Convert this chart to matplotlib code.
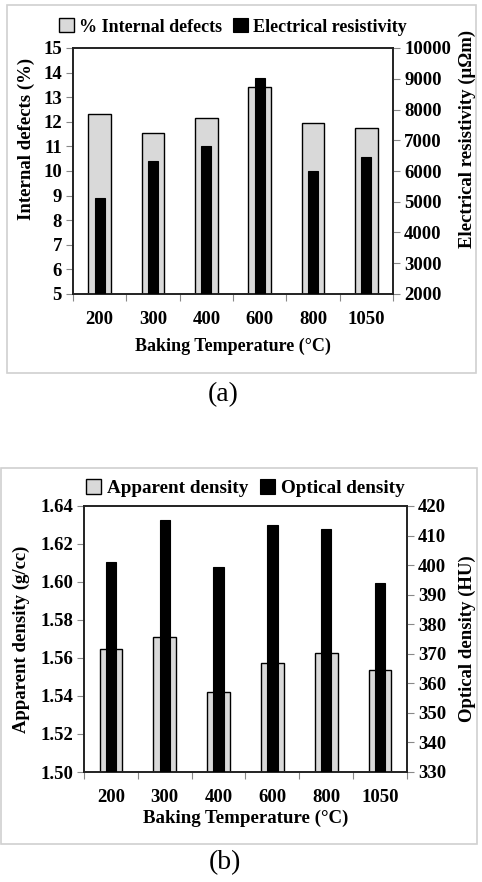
import numpy as np
import matplotlib.pyplot as plt
from matplotlib.patches import Rectangle

plt.rcParams['font.family'] = ['Liberation Serif', 'DejaVu Serif']

# Data
temps = ["200", "300", "400", "600", "800", "1050"]
internal_defects = [12.32, 11.53, 12.14, 13.40, 11.95, 11.75]       # %
resistivity = [5120, 6310, 6800, 9020, 6010, 6450]                  # uOhm m
apparent_density = [1.5648, 1.5708, 1.5420, 1.5576, 1.5624, 1.5536]  # g/cc
optical_density = [401.1, 415.3, 399.4, 413.5, 412.2, 394.1]        # HU

GREY = "#d9d9d9"
W, H = 482, 882


def fig_rect(x0, y0, x1, y1):
    # pixel box (top-left origin) -> figure fraction
    return [x0 / W, 1 - y1 / H, (x1 - x0) / W, (y1 - y0) / H]


def panel(fig, box, left_lim, left_ticks, left_fmt, left_lab,
          right_lim, right_ticks, right_lab, grey_vals, black_vals,
          grey_name, black_name, leg_y, xlab_pad, fs_leg, fs_xlab,
          ylab_y=0.5, ylab_x=(-0.16, 1.19)):
    ax = fig.add_axes(fig_rect(*box))
    x = np.arange(len(temps))
    ax.bar(x, grey_vals, width=0.42, color=GREY, edgecolor="black",
           linewidth=1.0, zorder=2, label=grey_name)
    ax.set_xlim(-0.5, len(temps) - 0.5)
    ax.set_ylim(*left_lim)
    ax.set_yticks(left_ticks)
    ax.set_yticklabels([left_fmt.format(v) for v in left_ticks])
    ax.set_xticks(np.arange(-0.5, len(temps)), minor=False)
    ax.set_xticklabels([])
    ax.set_xticks(x, minor=True)
    ax.set_xticklabels(temps, minor=True)
    ax.tick_params(axis="x", which="minor", length=0, pad=12)
    ax.tick_params(axis="x", which="major", length=5, color="#888888")
    ax.tick_params(axis="y", length=5, color="#888888", pad=3)
    for lab in ax.get_xticklabels(minor=True) + ax.get_yticklabels():
        lab.set_fontsize(13.5)
        lab.set_fontweight("bold")
    ax.set_ylabel(left_lab, fontsize=13.5, fontweight="bold")
    ax.yaxis.set_label_coords(ylab_x[0], ylab_y)
    ax.set_xlabel("Baking Temperature (\u00b0C)", fontsize=fs_xlab,
                  fontweight="bold", labelpad=xlab_pad)
    for s in ax.spines.values():
        s.set_linewidth(1.2)
        s.set_color("#222222")

    ax2 = ax.twinx()
    ax2.bar(x, black_vals, width=0.19, color="black", edgecolor="black",
            linewidth=0.8, zorder=3, label=black_name)
    ax2.set_ylim(*right_lim)
    ax2.set_yticks(right_ticks)
    ax2.tick_params(axis="y", length=5, color="#888888", pad=3)
    for lab in ax2.get_yticklabels():
        lab.set_fontsize(13.5)
        lab.set_fontweight("bold")
    ax2.set_ylabel(right_lab, fontsize=13.5, fontweight="bold")
    ax2.yaxis.set_label_coords(ylab_x[1], ylab_y)
    for s in ax2.spines.values():
        s.set_linewidth(1.2)
        s.set_color("#222222")

    h1, l1 = ax.get_legend_handles_labels()
    h2, l2 = ax2.get_legend_handles_labels()
    fig.legend(h1 + h2, l1 + l2, loc="center",
               bbox_to_anchor=((box[0] + box[2]) / 2 / W, 1 - leg_y / H),
               ncol=2, frameon=False, handlelength=0.8, handleheight=0.8,
               handletextpad=0.3, columnspacing=0.6,
               prop={"size": fs_leg, "weight": "bold"})
    return ax, ax2


fig = plt.figure(figsize=(W / 100, H / 100), dpi=100)

# light grey frames around the panels
for (x0, y0, x1, y1) in [(7, 5, 476, 373), (1, 468, 477, 844)]:
    fig.patches.append(Rectangle((x0 / W, 1 - y1 / H), (x1 - x0) / W,
                                 (y1 - y0) / H, transform=fig.transFigure,
                                 fill=False, edgecolor="#d0d0d0",
                                 linewidth=1.2))

panel(fig, (73, 48, 393, 294), (5, 15), list(range(5, 16)), "{:d}",
      "Internal defects (%)", (2000, 10000), list(range(2000, 10001, 1000)),
      "Electrical resistivity (\u03bc\u03a9m)", internal_defects, resistivity,
      "% Internal defects", "Electrical resistivity", 27, 7, 13, 13,
      ylab_y=0.63, ylab_x=(-0.12, 1.206))

panel(fig, (84, 506, 407, 772), (1.50, 1.64),
      [round(v, 2) for v in np.arange(1.50, 1.641, 0.02)], "{:.2f}",
      "Apparent density (g/cc)", (330, 420), list(range(330, 421, 10)),
      "Optical density (HU)", apparent_density, optical_density,
      "Apparent density", "Optical density", 488, 3, 13.8, 13.6,
      ylab_y=0.5, ylab_x=(-0.166, 1.161))

fig.text(223 / W, 1 - 395 / H, "(a)", ha="center", va="center", fontsize=20)
fig.text(225 / W, 1 - 863 / H, "(b)", ha="center", va="center", fontsize=20)

fig.savefig("out.png", dpi=100)
